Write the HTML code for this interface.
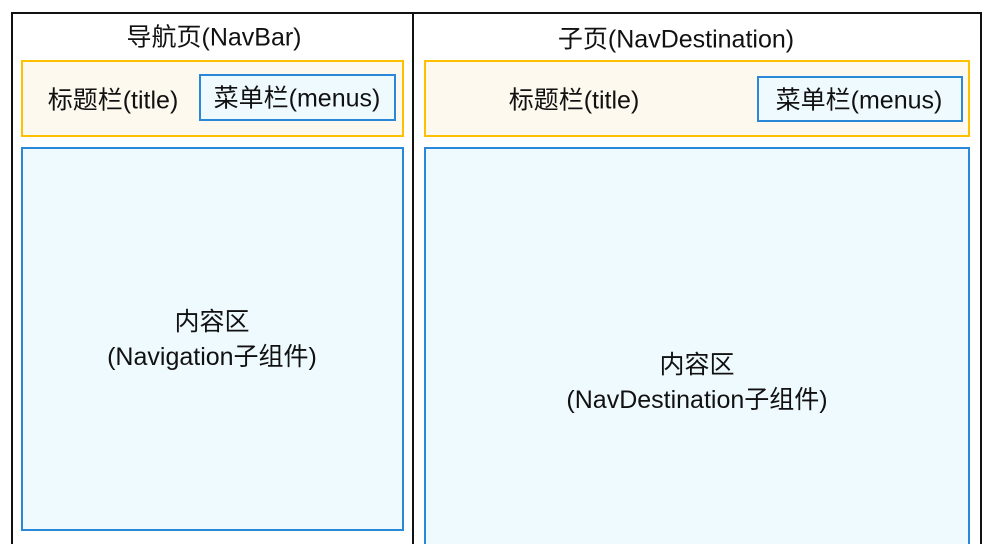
<!DOCTYPE html>
<html><head><meta charset="utf-8"><style>
html,body{margin:0;padding:0;background:#fff;width:992px;height:544px;overflow:hidden;}
body{position:relative;font-family:"Liberation Sans","Noto Sans CJK SC",sans-serif;font-size:25px;color:#111;}
.b{position:absolute;box-sizing:border-box;}
.t{position:absolute;white-space:nowrap;transform:translate(-50%,-50%);line-height:35px;text-align:center;}
</style></head><body>
<div class="b" style="left:11px;top:12px;width:971px;height:532px;border:2px solid #111;border-bottom:none;"></div>
<div class="b" style="left:412px;top:12px;width:2px;height:532px;background:#111;"></div>

<div class="b" style="left:21px;top:60px;width:383px;height:77px;border:2px solid #ffc000;background:#fdf9ef;"></div>
<div class="b" style="left:199px;top:74px;width:197px;height:47px;border:2px solid #2b88d8;background:#effaff;"></div>
<div class="b" style="left:21px;top:147px;width:383px;height:384px;border:2px solid #2b88d8;background:#effaff;"></div>

<div class="b" style="left:424px;top:60px;width:546px;height:77px;border:2px solid #ffc000;background:#fdf9ef;"></div>
<div class="b" style="left:757px;top:76px;width:206px;height:46px;border:2px solid #2b88d8;background:#effaff;"></div>
<div class="b" style="left:424px;top:147px;width:546px;height:397px;border:2px solid #2b88d8;border-bottom:none;background:#effaff;"></div>

<div class="t" style="left:214px;top:38px;">导航页(NavBar)</div>
<div class="t" style="left:113px;top:101px;">标题栏(title)</div>
<div class="t" style="left:297px;top:99px;">菜单栏(menus)</div>
<div class="t" style="left:212px;top:340px;">内容区<br>(Navigation子组件)</div>

<div class="t" style="left:676px;top:40px;">子页(NavDestination)</div>
<div class="t" style="left:574px;top:101px;">标题栏(title)</div>
<div class="t" style="left:859px;top:101px;">菜单栏(menus)</div>
<div class="t" style="left:697px;top:383px;">内容区<br>(NavDestination子组件)</div>
</body></html>
